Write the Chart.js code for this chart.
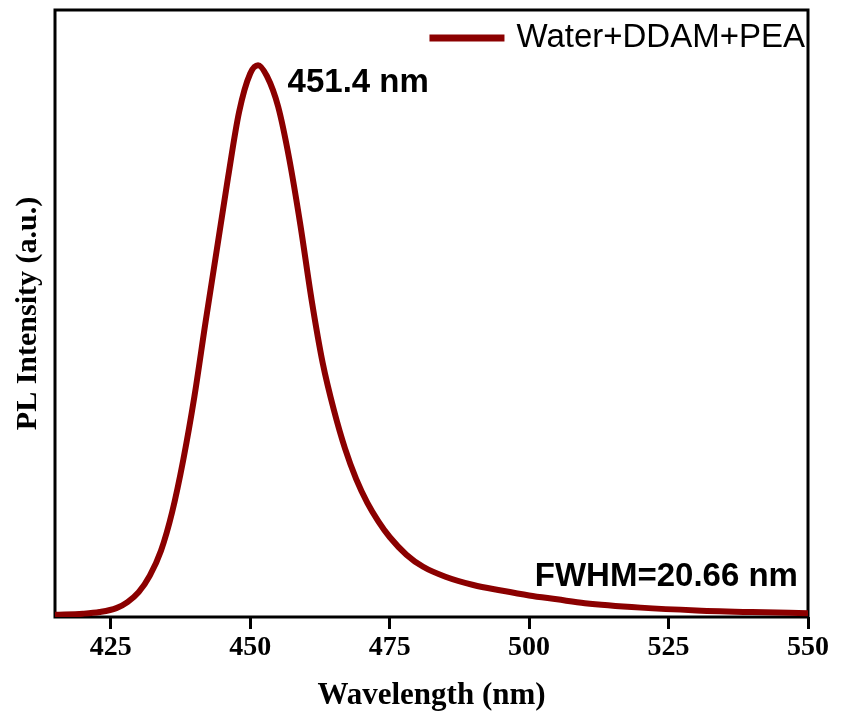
<!DOCTYPE html>
<html>
<head>
<meta charset="utf-8">
<script src="https://cdn.jsdelivr.net/npm/chart.js@4"></script>
<style>
  html, body { margin: 0; padding: 0; background: #fff; }
  #wrap { width: 842px; height: 722px; }
</style>
</head>
<body>
<div id="wrap"><canvas id="chartPL"></canvas></div>
<script>
// spectrum (wavelength in nm, normalised PL)
const wavelengths = [415, 420, 423, 426, 428, 430, 432, 434, 436, 438, 440, 442, 444, 446, 448, 450, 451.4,
  453, 455, 457, 459, 461, 463, 465, 467, 469, 471, 473, 475, 478, 481, 485, 490, 495, 500, 505, 510, 520, 530, 540, 550];
const intensity = [0.004, 0.006, 0.009, 0.016, 0.027, 0.045, 0.075, 0.12, 0.19, 0.285, 0.40, 0.535, 0.665, 0.795, 0.915, 0.985, 1.0,
  0.98, 0.925, 0.83, 0.71, 0.575, 0.46, 0.375, 0.305, 0.25, 0.207, 0.173, 0.145, 0.113, 0.091, 0.073, 0.058, 0.048, 0.039, 0.032, 0.025, 0.017, 0.012, 0.009, 0.007];
const xTicks = [425, 450, 475, 500, 525, 550];
const seriesName = 'Water+DDAM+PEA';
const peakLabel = '451.4 nm';
const fwhmLabel = 'FWHM=20.66 nm';

const lineColor = '#8b0000';
const chart = document.getElementById('chartPL');

// box round the plot, the two notes and the legend in the top right corner
const frameAndText = {
  id: 'frameAndText',
  beforeDatasetsDraw(c) {
    const { ctx, chartArea: a } = c;
    ctx.save();
    ctx.lineWidth = 3;
    ctx.strokeStyle = '#000';
    ctx.strokeRect(a.left, a.top, a.right - a.left, a.bottom - a.top);
    ctx.restore();
  },
  afterDraw(c) {
    const { ctx, chartArea: a } = c;
    const x = c.scales.x, y = c.scales.y;
    ctx.save();
    ctx.fillStyle = '#000';
    ctx.font = 'bold 33px "Liberation Sans", Arial, sans-serif';
    ctx.textBaseline = 'alphabetic';
    ctx.textAlign = 'left';
    ctx.fillText(peakLabel, x.getPixelForValue(456.7), y.getPixelForValue(0.951));
    ctx.textAlign = 'right';
    ctx.fillText(fwhmLabel, x.getPixelForValue(548.2), y.getPixelForValue(0.056));

    // legend
    const ds = c.data.datasets[0];
    ctx.font = '33px "Liberation Sans", Arial, sans-serif';
    ctx.textAlign = 'right';
    ctx.textBaseline = 'middle';
    const textRight = a.right - 3;
    const ly = a.top + 28;
    ctx.fillText(ds.label, textRight, ly);
    const tw = ctx.measureText(ds.label).width;
    const lineEnd = textRight - tw - 12;
    ctx.strokeStyle = ds.borderColor;
    ctx.lineWidth = 7;
    ctx.beginPath();
    ctx.moveTo(lineEnd - 75, ly);
    ctx.lineTo(lineEnd, ly);
    ctx.stroke();
    ctx.restore();
  }
};

new Chart(chart, {
  type: 'line',
  data: {
    datasets: [{
      label: seriesName,
      data: wavelengths.map((w, i) => ({ x: w, y: intensity[i] })),
      borderColor: lineColor,
      backgroundColor: lineColor,
      borderWidth: 6,
      pointRadius: 0,
      cubicInterpolationMode: 'monotone',
      fill: false
    }]
  },
  options: {
    responsive: true,
    maintainAspectRatio: false,
    animation: false,
    layout: { padding: { top: 10, right: 34, left: 0, bottom: 0 } },
    plugins: {
      tooltip: { enabled: false },
      legend: { display: false }
    },
    scales: {
      x: {
        type: 'linear',
        min: 415,
        max: 550,
        afterBuildTicks: (axis) => { axis.ticks = xTicks.map(v => ({ value: v })); },
        afterFit: (axis) => { axis.height = 105; },
        border: { display: false },
        grid: {
          display: true,
          drawOnChartArea: false,
          drawTicks: true,
          tickLength: 12,
          tickWidth: 3,
          tickColor: '#000'
        },
        ticks: {
          padding: 2,
          color: '#000',
          maxRotation: 0,
          font: { family: '"Liberation Serif", "Times New Roman", serif', size: 28, weight: 'bold' }
        },
        title: {
          display: true,
          text: 'Wavelength (nm)',
          color: '#000',
          padding: { top: 0, bottom: 7 },
          font: { family: '"Liberation Serif", "Times New Roman", serif', size: 31, weight: 'bold' }
        }
      },
      y: {
        min: 0,
        max: 1.1,
        afterFit: (axis) => { axis.width = 55; },
        border: { display: false },
        grid: { display: false },
        ticks: { display: false },
        title: {
          display: true,
          text: 'PL Intensity (a.u.)',
          color: '#000',
          padding: { top: 10, bottom: 0 },
          font: { family: '"Liberation Serif", "Times New Roman", serif', size: 30, weight: 'bold' }
        }
      }
    }
  },
  plugins: [frameAndText]
});
</script>
</body>
</html>
